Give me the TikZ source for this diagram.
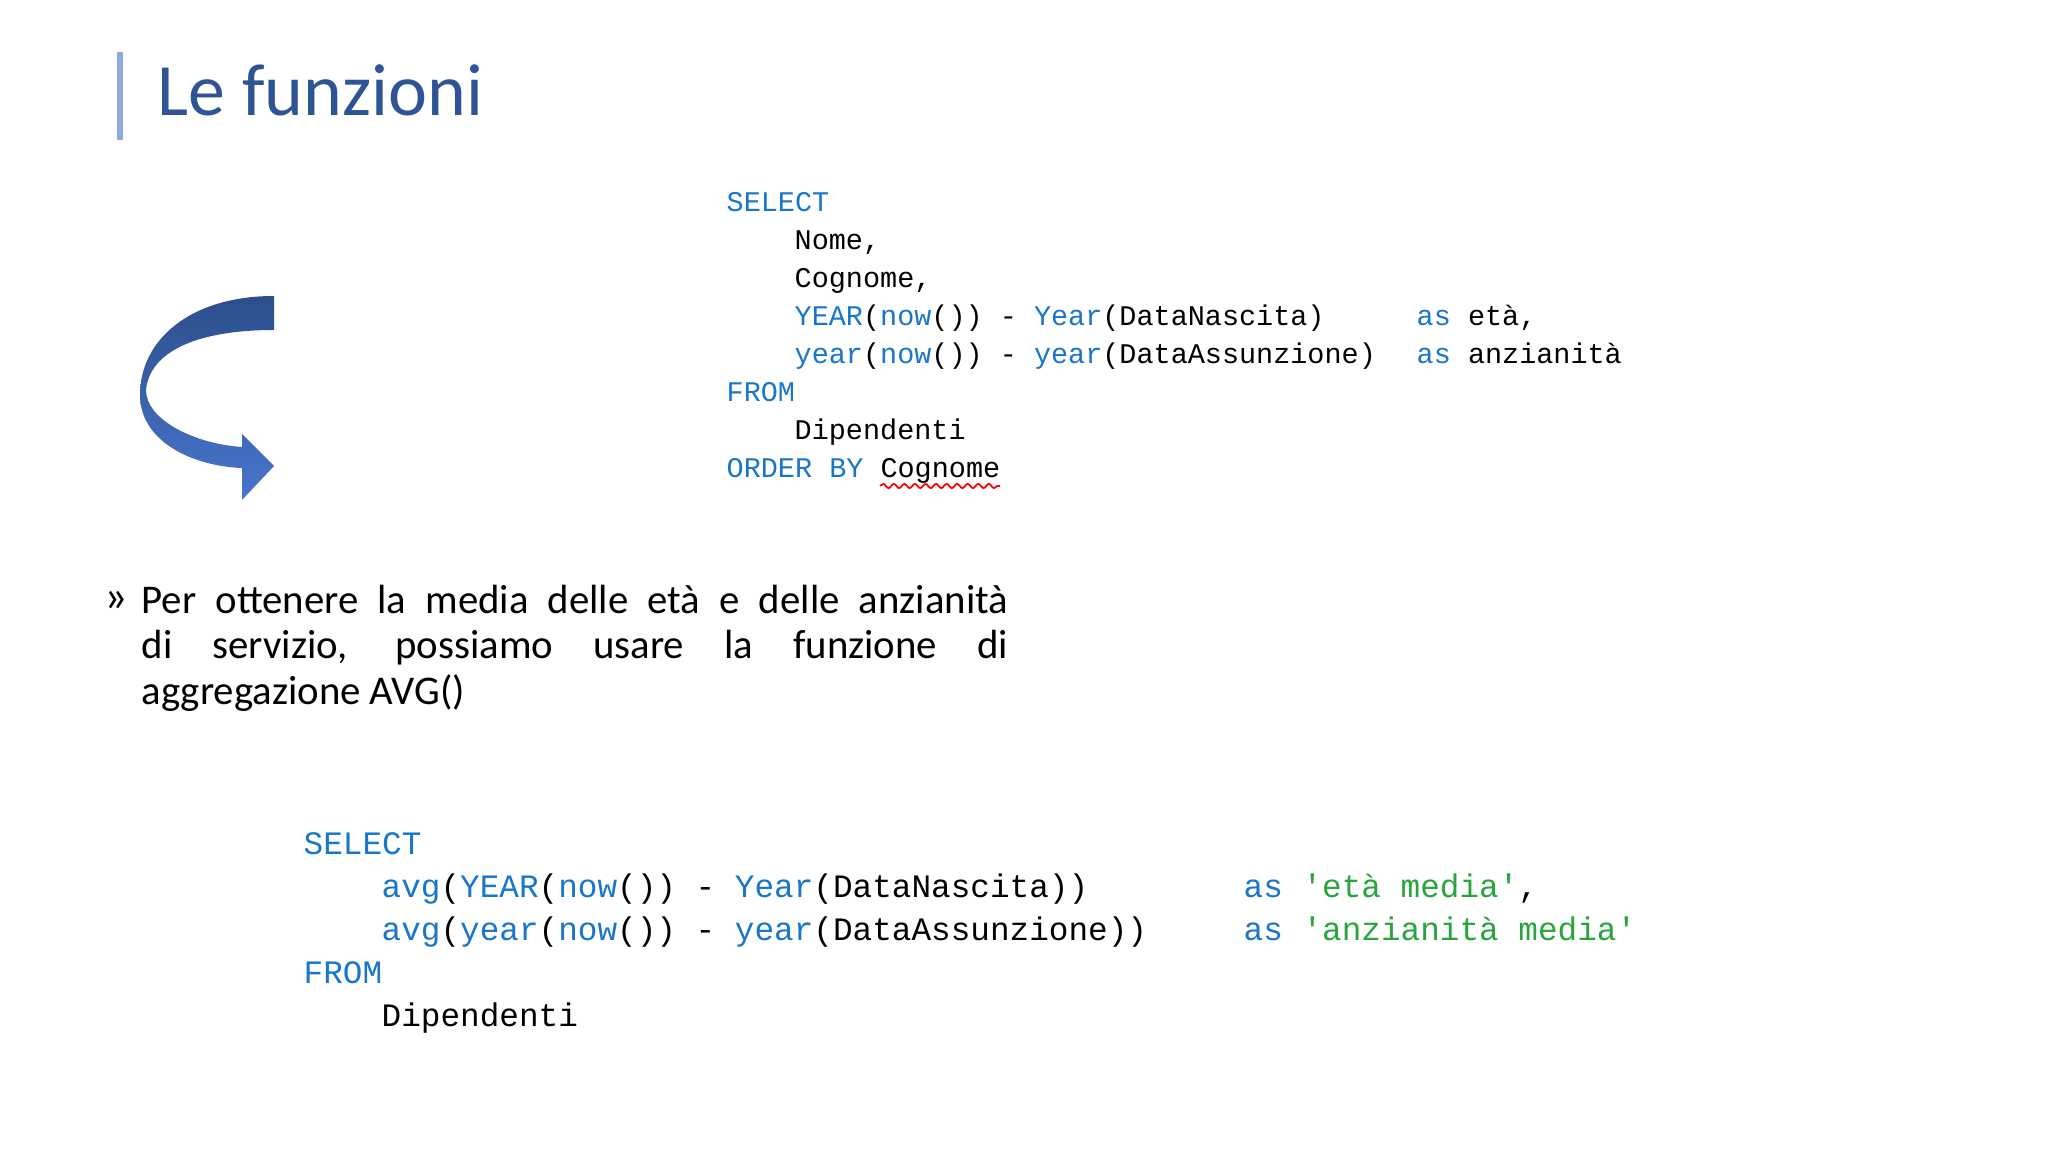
\documentclass[tikz,border=0pt]{standalone}
\usepackage{fontspec}
\setmainfont{Carlito}
\newfontfamily\codefont{Liberation Mono}
\usetikzlibrary{decorations.pathmorphing}
\definecolor{titleblue}{RGB}{47,84,150}
\definecolor{barblue}{RGB}{143,170,220}
\definecolor{kw}{RGB}{25,118,200}
\definecolor{str}{RGB}{40,165,60}
\definecolor{arrdark}{RGB}{44,78,140}
\definecolor{arrlight}{RGB}{72,118,205}
\begin{document}
\begin{tikzpicture}[x=0.01cm,y=-0.01cm,
  codeA/.style={anchor=base west,inner sep=0,font=\codefont\fontsize{8.1pt}{9pt}\selectfont},
  codeB/.style={anchor=base west,inner sep=0,font=\codefont\fontsize{9.3pt}{10pt}\selectfont}]
\useasboundingbox (0,0) rectangle (2048,1152);
\fill[barblue] (117,52) rectangle (123,140);
\node[anchor=base west,inner sep=0,text=titleblue,font=\fontsize{21pt}{25pt}\selectfont] (title) at (157,116) {Le funzioni};
% arrow
\shade[top color=arrdark,bottom color=arrlight,draw=none]
 (274,296) .. controls (190,296) and (140,340) .. (140,395)
 .. controls (140,440) and (190,466) .. (242,468) -- (242,500) -- (274,466) -- (242,434) -- (242,447)
 .. controls (195,444) and (146,420) .. (146,390)
 .. controls (150,350) and (200,330) .. (274,330) -- cycle;
% code 1
\node[codeA,text=kw] (s1) at (726,212) {SELECT};
\node[codeA] (l2) at (794,250) {Nome,};
\node[codeA] (l3) at (794,288) {Cognome,};
\node[codeA] (l4) at (794,326) {\textcolor{kw}{YEAR}(\textcolor{kw}{now}()) - \textcolor{kw}{Year}(DataNascita)};
\node[codeA] (l4b) at (1416,326) {\textcolor{kw}{as} età,};
\node[codeA] (l5) at (794,364) {\textcolor{kw}{year}(\textcolor{kw}{now}()) - \textcolor{kw}{year}(DataAssunzione)};
\node[codeA] (l5b) at (1416,364) {\textcolor{kw}{as} anzianità};
\node[codeA,text=kw] (f1) at (726,402) {FROM};
\node[codeA] (d1) at (794,440) {Dipendenti};
\node[codeA] (o1) at (726,478) {\textcolor{kw}{ORDER BY} Cognome};
\draw[red,line width=0.5pt,decorate,decoration={snake,amplitude=0.6pt,segment length=3pt}] (880,486) -- (1000,486);
% bullet
\node[anchor=base west,inner sep=0,font=\fontsize{13pt}{13pt}\selectfont] (bul) at (104,612) {»};
\node[anchor=north west,inner sep=0,font=\fontsize{11.6pt}{13pt}\selectfont,text width=8.66cm,align=justify] (txt) at (141,584)
 {\baselineskip=0.46cm Per ottenere la media delle età e delle anzianità\linebreak di servizio, possiamo usare la funzione di\linebreak aggregazione AVG()};
% code 2
\node[codeB,text=kw] (s2) at (303,854) {SELECT};
\node[codeB] (m1) at (381,897) {\textcolor{kw}{avg}(\textcolor{kw}{YEAR}(\textcolor{kw}{now}()) - \textcolor{kw}{Year}(DataNascita))};
\node[codeB] (m1b) at (1243,897) {\textcolor{kw}{as} \textcolor{str}{'età media'},};
\node[codeB] (m2) at (381,940) {\textcolor{kw}{avg}(\textcolor{kw}{year}(\textcolor{kw}{now}()) - \textcolor{kw}{year}(DataAssunzione))};
\node[codeB] (m2b) at (1243,940) {\textcolor{kw}{as} \textcolor{str}{'anzianità media'}};
\node[codeB,text=kw] (f2) at (303,983) {FROM};
\node[codeB] (d2) at (381,1026) {Dipendenti};
\end{tikzpicture}
\end{document}
